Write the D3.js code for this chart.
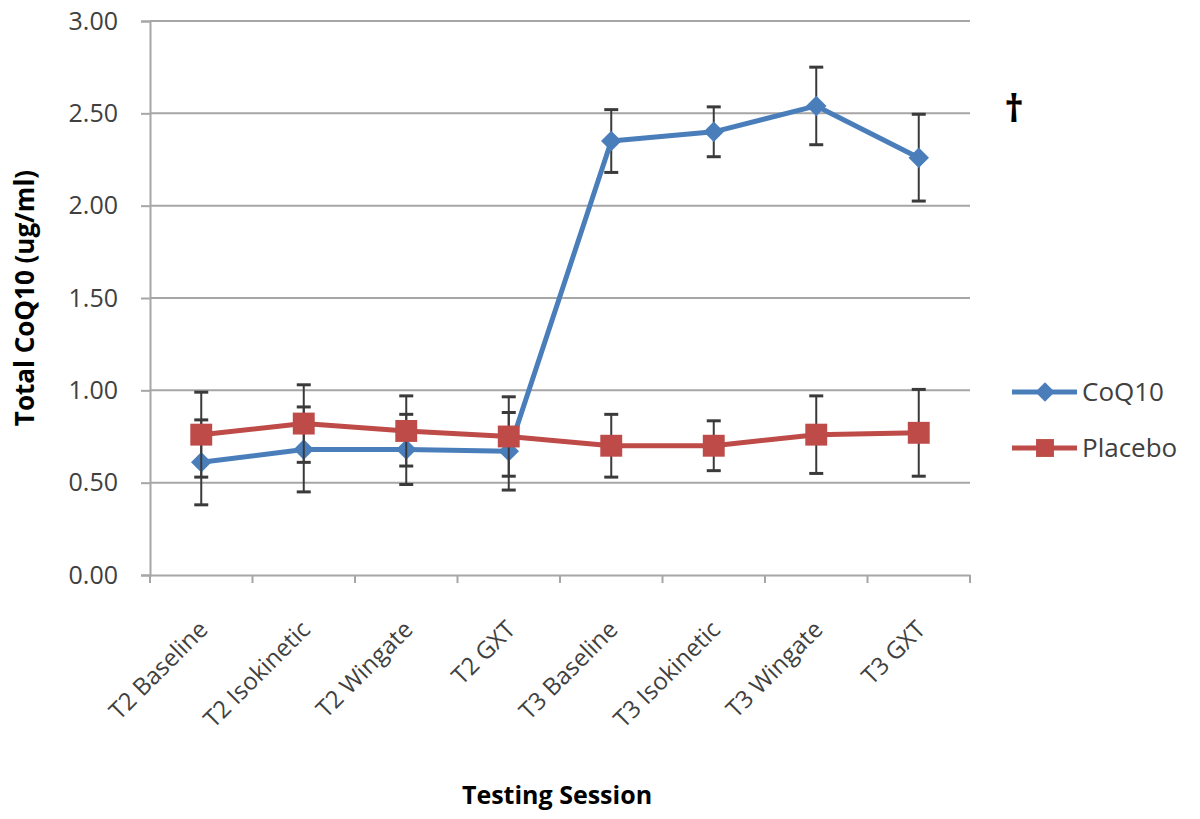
<!DOCTYPE html>
<html>
<head>
<meta charset="utf-8">
<script src="https://cdnjs.cloudflare.com/ajax/libs/d3/7.8.5/d3.min.js"></script>
<style>
  body { margin: 0; background: #fff; }
  text { font-family: "Open Sans", sans-serif; }
</style>
</head>
<body>
<div id="chart"></div>
<script>
// sessions along the x axis
const sessions = ['T2 Baseline', 'T2 Isokinetic', 'T2 Wingate', 'T2 GXT',
                  'T3 Baseline', 'T3 Isokinetic', 'T3 Wingate', 'T3 GXT'];

// mean values (ug/ml)
const coq10 = [0.61, 0.68, 0.68, 0.67, 2.35, 2.40, 2.54, 2.26];
const placebo = [0.76, 0.82, 0.78, 0.75, 0.70, 0.70, 0.76, 0.77];

// error bar half-widths
const coq10Err = [0.23, 0.23, 0.19, 0.21, 0.17, 0.135, 0.21, 0.235];
const placeboErr = [0.23, 0.21, 0.19, 0.215, 0.17, 0.135, 0.21, 0.235];

const yTicks = [0, 0.5, 1, 1.5, 2, 2.5, 3];

const W = 1200, H = 819;
const margin = { top: 21, right: 230, bottom: 244, left: 150 };

const svg = d3.select('#chart').append('svg')
  .attr('width', W)
  .attr('height', H);

const x = d3.scaleBand()
  .domain(sessions)
  .range([margin.left, W - margin.right]);

const y = d3.scaleLinear()
  .domain([0, 3])
  .range([H - margin.bottom, margin.top]);

const gridColor = '#a6a6a6';
const blue = '#4a7ebb';
const red = '#be4b48';

// gridlines
svg.append('g')
  .selectAll('line')
  .data(yTicks.filter(d => d > 0))
  .enter().append('line')
  .attr('x1', margin.left)
  .attr('x2', W - margin.right)
  .attr('y1', d => y(d))
  .attr('y2', d => y(d))
  .attr('stroke', gridColor)
  .attr('stroke-width', 2);

// y axis
const yAxis = svg.append('g')
  .attr('transform', `translate(${margin.left},0)`)
  .call(d3.axisLeft(y).tickValues(yTicks).tickFormat(d3.format('.2f')).tickSize(9).tickPadding(23));
yAxis.select('.domain').attr('stroke', gridColor).attr('stroke-width', 2);
yAxis.selectAll('.tick line').attr('stroke', gridColor).attr('stroke-width', 2);
yAxis.selectAll('.tick text')
  .attr('fill', '#404040')
  .style('font-size', '25px')
  .style('font-family', '"Open Sans", sans-serif');

// x axis
const xAxis = svg.append('g')
  .attr('transform', `translate(0,${y(0)})`)
  .call(d3.axisBottom(x).tickSize(0).tickFormat(''));
xAxis.select('.domain').attr('stroke', gridColor).attr('stroke-width', 2);

// boundary ticks of the category axis
const bounds = sessions.map(s => x(s)).concat([x(sessions[sessions.length - 1]) + x.bandwidth()]);
svg.append('g')
  .selectAll('line')
  .data(bounds)
  .enter().append('line')
  .attr('x1', d => d).attr('x2', d => d)
  .attr('y1', y(0)).attr('y2', y(0) + 8)
  .attr('stroke', gridColor)
  .attr('stroke-width', 2);

// rotated category labels
svg.append('g')
  .selectAll('text')
  .data(sessions)
  .enter().append('text')
  .attr('transform', d => `translate(${x(d) + x.bandwidth() / 2 + 8},${y(0) + 56}) rotate(-45)`)
  .attr('text-anchor', 'end')
  .attr('fill', '#404040')
  .style('font-size', '24px')
  .text(d => d);

const cx = d => x(d) + x.bandwidth() / 2;

function drawSeries(values, errs, color, shape, size, rot) {
  const g = svg.append('g');
  const pts = sessions.map((s, i) => ({ s, v: values[i], e: errs[i] }));

  // error bars
  const eb = g.append('g').attr('stroke', '#3a3a3a').attr('stroke-width', 2);
  pts.forEach(p => {
    eb.append('line')
      .attr('x1', cx(p.s)).attr('x2', cx(p.s))
      .attr('y1', y(p.v + p.e)).attr('y2', y(p.v - p.e));
    [p.v + p.e, p.v - p.e].forEach(v => {
      eb.append('line')
        .attr('x1', cx(p.s) - 7).attr('x2', cx(p.s) + 7)
        .attr('y1', y(v)).attr('y2', y(v))
        .attr('stroke-width', 3);
    });
  });

  // line
  g.append('path')
    .datum(pts)
    .attr('fill', 'none')
    .attr('stroke', color)
    .attr('stroke-width', 5)
    .attr('stroke-linejoin', 'round')
    .attr('d', d3.line().x(p => cx(p.s)).y(p => y(p.v)));

  // markers
  g.selectAll('.m')
    .data(pts)
    .enter().append('path')
    .attr('transform', p => `translate(${cx(p.s)},${y(p.v)}) rotate(${rot})`)
    .attr('d', d3.symbol().type(shape).size(size))
    .attr('fill', color);
}

drawSeries(coq10, coq10Err, blue, d3.symbolSquare, 210, 45);
drawSeries(placebo, placeboErr, red, d3.symbolSquare, 480, 0);

// axis titles
svg.append('text')
  .attr('transform', `translate(34,${y(1.5)}) rotate(-90)`)
  .attr('text-anchor', 'middle')
  .attr('fill', '#000')
  .style('font-size', '26px')
  .style('font-weight', 'bold')
  .text('Total CoQ10 (ug/ml)');

svg.append('text')
  .attr('x', 557)
  .attr('y', 804)
  .attr('text-anchor', 'middle')
  .attr('fill', '#000')
  .style('font-size', '25px')
  .style('font-weight', 'bold')
  .text('Testing Session');

// dagger
svg.append('text')
  .attr('x', 1014)
  .attr('y', 122)
  .attr('text-anchor', 'middle')
  .attr('fill', '#000')
  .style('font-size', '38px')
  .style('font-weight', 'bold')
  .text('\u2020');

// legend
const legend = [
  { name: 'CoQ10', color: blue, shape: d3.symbolSquare, size: 190, rot: 45 },
  { name: 'Placebo', color: red, shape: d3.symbolSquare, size: 320, rot: 0 }
];
const lg = svg.append('g').attr('transform', 'translate(1012,392)');
legend.forEach((d, i) => {
  const row = lg.append('g').attr('transform', `translate(0,${i * 56})`);
  row.append('line')
    .attr('x1', 0).attr('x2', 65)
    .attr('stroke', d.color).attr('stroke-width', 5);
  row.append('path')
    .attr('transform', `translate(33,0) rotate(${d.rot})`)
    .attr('d', d3.symbol().type(d.shape).size(d.size))
    .attr('fill', d.color);
  row.append('text')
    .attr('x', 70)
    .attr('y', 9)
    .attr('fill', '#404040')
    .style('font-size', '26px')
    .text(d.name);
});
</script>
</body>
</html>
